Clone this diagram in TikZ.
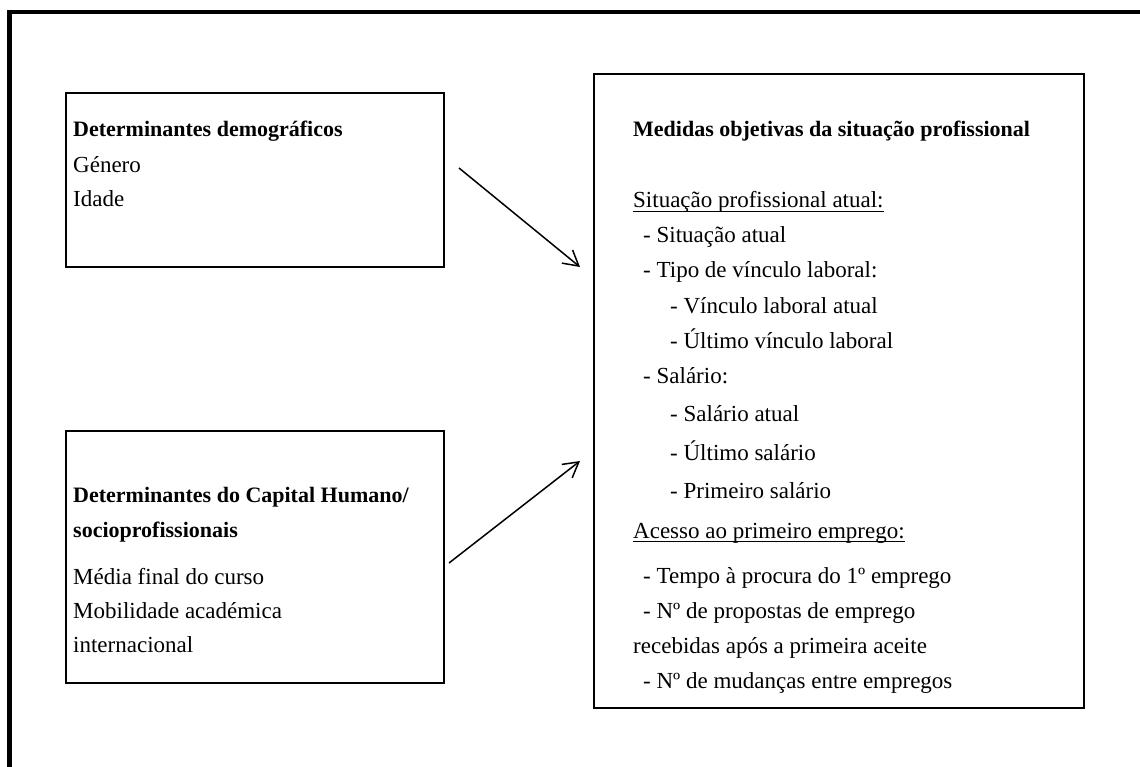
\documentclass[tikz,border=0pt]{standalone}
\usepackage{fontspec}
\setmainfont{Liberation Serif}
\usetikzlibrary{arrows.meta}
\newcommand\myul[1]{\setbox0\hbox{#1}\rlap{\rule[-4pt]{\wd0}{1.4pt}}\box0}
\begin{document}
\begin{tikzpicture}[x=1pt,y=-1pt,
  box/.style={draw, line width=2pt, anchor=north west, inner sep=0pt},
  txt/.style={anchor=base west, inner sep=0pt, font=\fontsize{23}{27}\selectfont},
  hd/.style={anchor=base west, inner sep=0pt, font=\fontsize{22}{26}\selectfont\bfseries},
  conn/.style={line width=1.5pt, -{Straight Barb[length=15pt,width=17pt,line width=1.5pt]}}]
\useasboundingbox (0,0) rectangle (1140,767);
\begin{scope}
\clip (0,0) rectangle (1140,767);
\draw[line width=4.5pt] (9.5,12) rectangle (1200,820);
\end{scope}
% boxes
\node[box, minimum width=378pt, minimum height=174pt] (demo) at (65,92) {};
\node[box, minimum width=378pt, minimum height=252pt] (cap) at (65,430) {};
\node[box, minimum width=490pt, minimum height=634pt] (med) at (593,73) {};
% box 1 text
\node[hd] (d1) at (73,137) {Determinantes demográficos};
\node[txt] (d2) at (73,173) {Género};
\node[txt] (d3) at (73,207) {Idade};
% box 2 text
\node[hd] (c1) at (73,502) {Determinantes do Capital Humano/};
\node[hd] (c2) at (73,537) {socioprofissionais};
\node[txt] (c3) at (73,584) {Média final do curso};
\node[txt] (c4) at (73,618) {Mobilidade académica};
\node[txt] (c5) at (73,652) {internacional};
% box 3 text
\node[hd] (m1) at (633,137) {Medidas objetivas da situação profissional};
\node[txt] (m2) at (633,208) {\myul{Situação profissional atual:}};
\node[txt] (m3) at (643,243) {- Situação atual};
\node[txt] (m4) at (643,278) {- Tipo de vínculo laboral:};
\node[txt] (m5) at (670,313) {- Vínculo laboral atual};
\node[txt] (m6) at (670,348) {- Último vínculo laboral};
\node[txt] (m7) at (643,383) {- Salário:};
\node[txt] (m8) at (670,421) {- Salário atual};
\node[txt] (m9) at (670,460) {- Último salário};
\node[txt] (m10) at (670,498) {- Primeiro salário};
\node[txt] (m11) at (633,538) {\myul{Acesso ao primeiro emprego:}};
\node[txt] (m12) at (643,583) {- Tempo à procura do 1º emprego};
\node[txt] (m13) at (643,618) {- Nº de propostas de emprego};
\node[txt] (m14) at (633,653) {recebidas após a primeira aceite};
\node[txt] (m15) at (643,688) {- Nº de mudanças entre empregos};
% arrows
\coordinate (a1s) at (459,168);
\coordinate (a1e) at (580,267);
\coordinate (a2s) at (449,563);
\coordinate (a2e) at (580,461);
\draw[conn] (a1s) -- (a1e);
\draw[conn] (a2s) -- (a2e);
\end{tikzpicture}
\end{document}
